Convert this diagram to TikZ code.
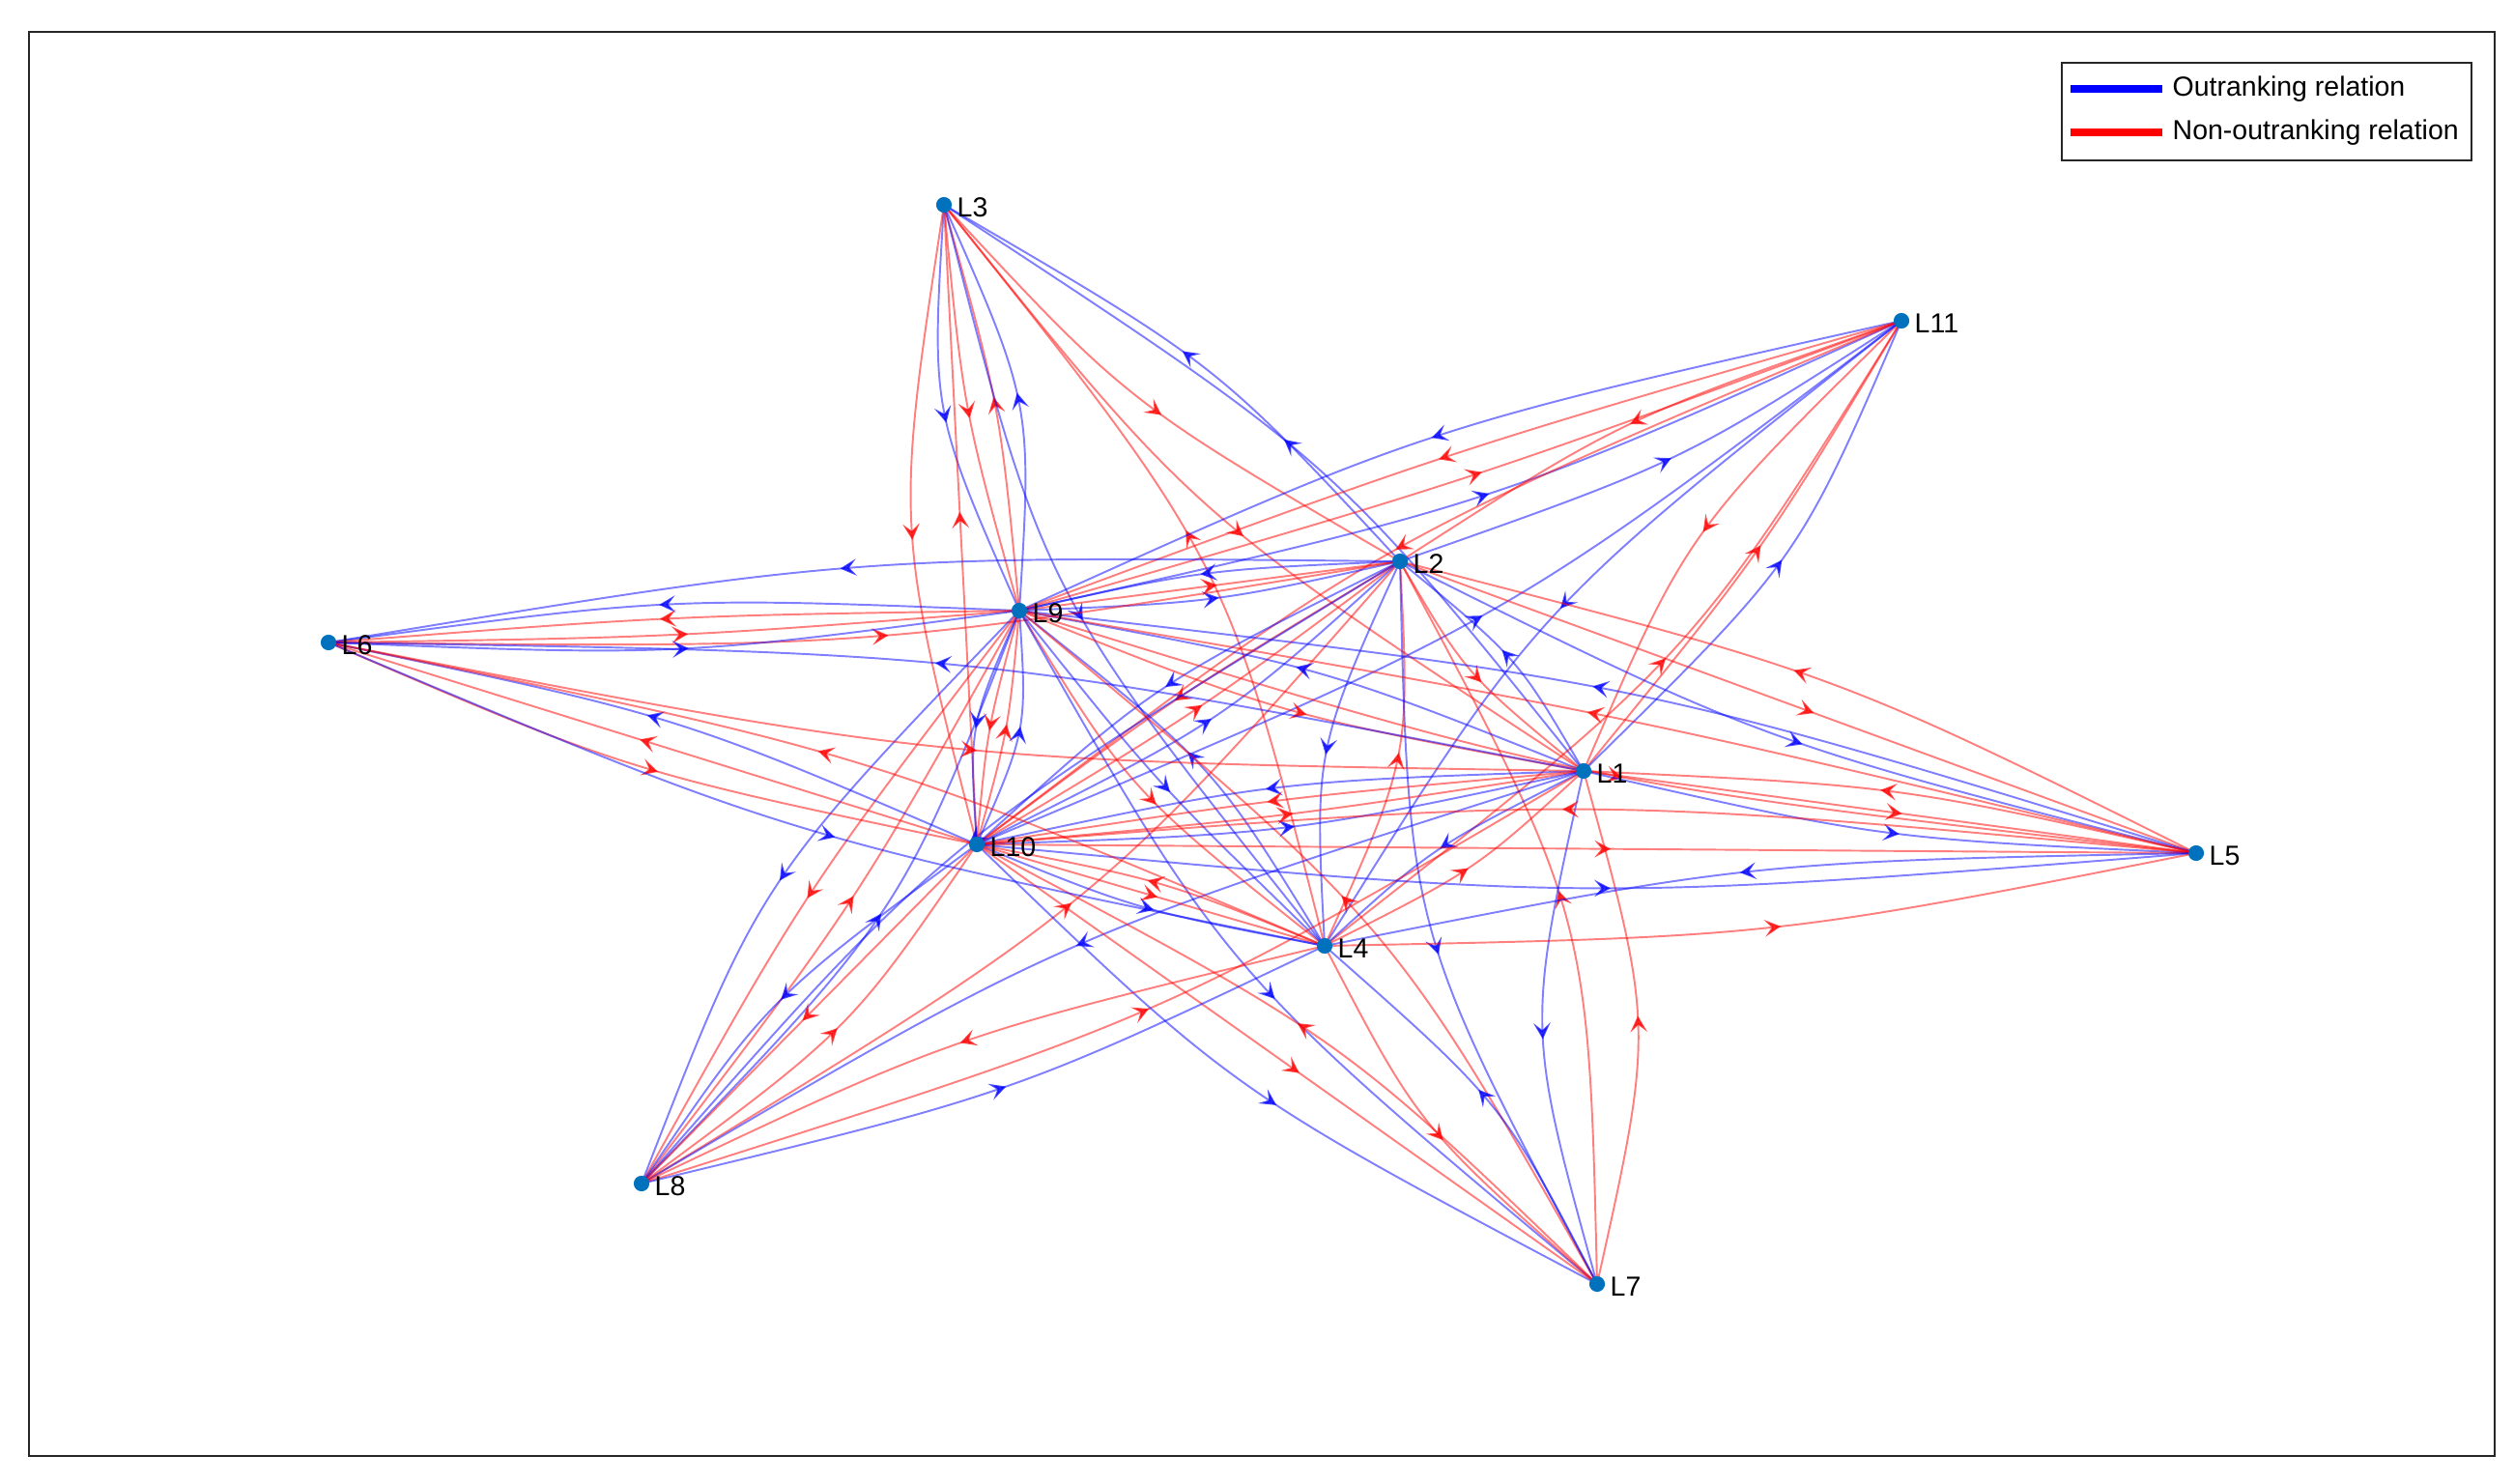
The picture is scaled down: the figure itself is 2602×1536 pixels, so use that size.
\documentclass[tikz,border=0pt]{standalone}
\usepackage{fontspec}
\setmainfont{Liberation Sans}
\usetikzlibrary{calc,arrows.meta,decorations.markings}
\definecolor{nodeblue}{HTML}{0072BD}
\definecolor{framegray}{HTML}{262626}
\tikzset{
  ebase/.style={line width=0.55pt, opacity=0.5, postaction={decorate},
    decoration={markings, mark=at position 0.52 with {\pgfsetfillopacity{0.7}\pgfsetstrokeopacity{0.7}\arrow{Stealth[length=4.8pt,width=5pt,inset=2.1pt]}}}},
  eB/.style={ebase, draw=blue},
  eR/.style={ebase, draw=red},
  dot/.style={circle, fill=nodeblue, inner sep=0pt, minimum size=4.6pt},
  lbl/.style={anchor=west, font=\fontsize{8.1}{9.5}\selectfont, inner sep=0pt},
}
% from, to, colour (B/R), curvature
\newcommand\myedge[4]{\draw[e#3] let \p1=(#1), \p2=(#2) in (\p1) .. controls ($(\p1)!0.5!(\p2)+({#4*1.7*((\y2)-(\y1))/0.75},{-#4*((\x2)-(\x1))/1.275})$) .. (\p2);}
\begin{document}
\begin{tikzpicture}[x=0.01cm,y=-0.01cm]
\useasboundingbox (0,0) rectangle (2602,1536);
\draw[framegray, line width=0.5pt] (30,33) rectangle (2582,1507);
% positions
\coordinate (n3) at (977,212);
\coordinate (n11) at (1968,332);
\coordinate (n2) at (1449,581);
\coordinate (n9) at (1055,632);
\coordinate (n6) at (340,665);
\coordinate (n1) at (1639,798);
\coordinate (n10) at (1011,874);
\coordinate (n5) at (2273,883);
\coordinate (n4) at (1371,979);
\coordinate (n8) at (664,1225);
\coordinate (n7) at (1653,1329);
% edges
\myedge{n2}{n3}{B}{0.055}
\myedge{n3}{n2}{R}{0.055}
\myedge{n1}{n3}{B}{0.055}
\myedge{n3}{n1}{R}{0.055}
\myedge{n3}{n9}{B}{0.055}
\myedge{n3}{n9}{R}{0.02}
\myedge{n9}{n3}{R}{0.02}
\myedge{n9}{n3}{B}{0.055}
\myedge{n3}{n10}{R}{0.045}
\myedge{n10}{n3}{R}{0}
\myedge{n4}{n3}{R}{0.055}
\myedge{n3}{n4}{B}{0.055}
\myedge{n11}{n9}{B}{0.055}
\myedge{n11}{n9}{R}{0.02}
\myedge{n9}{n11}{R}{0.02}
\myedge{n9}{n11}{B}{0.055}
\myedge{n11}{n2}{R}{0.055}
\myedge{n2}{n11}{B}{0.055}
\myedge{n11}{n1}{R}{0.055}
\myedge{n1}{n11}{R}{0.02}
\myedge{n1}{n11}{B}{0.055}
\myedge{n11}{n10}{R}{0.055}
\myedge{n10}{n11}{B}{0.055}
\myedge{n4}{n11}{R}{0.055}
\myedge{n11}{n4}{B}{0.055}
\myedge{n2}{n9}{B}{0.055}
\myedge{n9}{n2}{R}{0}
\myedge{n9}{n2}{B}{0.055}
\myedge{n2}{n6}{B}{0.055}
\myedge{n6}{n2}{R}{0.055}
\myedge{n1}{n2}{B}{0.055}
\myedge{n2}{n1}{R}{0.055}
\myedge{n2}{n10}{B}{0.055}
\myedge{n2}{n10}{R}{0.02}
\myedge{n10}{n2}{R}{0.02}
\myedge{n10}{n2}{B}{0.055}
\myedge{n2}{n4}{B}{0.055}
\myedge{n4}{n2}{R}{0.055}
\myedge{n5}{n2}{R}{0.055}
\myedge{n2}{n5}{R}{0}
\myedge{n2}{n5}{B}{0.055}
\myedge{n7}{n2}{R}{0.055}
\myedge{n2}{n7}{B}{0.055}
\myedge{n8}{n2}{R}{0.055}
\myedge{n2}{n8}{B}{0.055}
\myedge{n1}{n9}{B}{0.055}
\myedge{n9}{n1}{R}{0.055}
\myedge{n9}{n10}{B}{0.055}
\myedge{n9}{n10}{R}{0.02}
\myedge{n10}{n9}{R}{0.02}
\myedge{n10}{n9}{B}{0.055}
\myedge{n4}{n9}{B}{0.055}
\myedge{n9}{n4}{R}{0.055}
\myedge{n9}{n4}{B}{0.02}
\myedge{n5}{n9}{B}{0.055}
\myedge{n5}{n9}{R}{0.02}
\myedge{n9}{n5}{R}{0.055}
\myedge{n9}{n6}{B}{0.055}
\myedge{n9}{n6}{R}{0.02}
\myedge{n6}{n9}{R}{0.02}
\myedge{n6}{n9}{B}{0.055}
\myedge{n9}{n7}{B}{0.055}
\myedge{n7}{n9}{R}{0.055}
\myedge{n9}{n8}{B}{0.055}
\myedge{n9}{n8}{R}{0.02}
\myedge{n8}{n9}{R}{0.02}
\myedge{n8}{n9}{B}{0.055}
\myedge{n1}{n10}{B}{0.055}
\myedge{n1}{n10}{R}{0.02}
\myedge{n10}{n1}{R}{0.02}
\myedge{n10}{n1}{B}{0.055}
\myedge{n1}{n4}{B}{0.055}
\myedge{n4}{n1}{R}{0.055}
\myedge{n5}{n1}{R}{0.055}
\myedge{n1}{n5}{R}{0}
\myedge{n1}{n5}{B}{0.055}
\myedge{n1}{n6}{B}{0.055}
\myedge{n6}{n1}{R}{0.055}
\myedge{n1}{n7}{B}{0.055}
\myedge{n7}{n1}{R}{0.055}
\myedge{n8}{n1}{R}{0.055}
\myedge{n1}{n8}{B}{0.055}
\myedge{n10}{n4}{B}{0.055}
\myedge{n10}{n4}{R}{0}
\myedge{n4}{n10}{R}{0.055}
\myedge{n5}{n10}{R}{0.055}
\myedge{n10}{n5}{R}{0}
\myedge{n10}{n5}{B}{0.055}
\myedge{n10}{n7}{B}{0.055}
\myedge{n10}{n7}{R}{0}
\myedge{n7}{n10}{R}{0.055}
\myedge{n10}{n8}{B}{0.055}
\myedge{n10}{n8}{R}{0}
\myedge{n8}{n10}{R}{0.055}
\myedge{n10}{n6}{B}{0.055}
\myedge{n10}{n6}{R}{0}
\myedge{n6}{n10}{R}{0.055}
\myedge{n5}{n4}{B}{0.055}
\myedge{n4}{n5}{R}{0.055}
\myedge{n4}{n6}{R}{0.055}
\myedge{n6}{n4}{B}{0.055}
\myedge{n4}{n7}{R}{0.055}
\myedge{n7}{n4}{B}{0.055}
\myedge{n4}{n8}{R}{0.055}
\myedge{n8}{n4}{B}{0.055}
% node dots and labels
\foreach \n in {1,...,11} {
  \node[dot] (d\n) at (n\n) {};
  \node[lbl] (t\n) at ($(n\n)+(13,3)$) {L\n};
}
% legend
\node[draw=framegray, line width=0.5pt, fill=white, anchor=north west, minimum width=4.24cm, minimum height=1.01cm, inner sep=0pt] (legend) at (2133,64) {};
\coordinate (lb1) at (2143,92);
\coordinate (lb2) at (2238,92);
\coordinate (lr1) at (2143,137);
\coordinate (lr2) at (2238,137);
\draw[blue, line width=2pt] (lb1) -- (lb2);
\draw[red, line width=2pt] (lr1) -- (lr2);
\node[lbl] (lg1) at (2248,92) {Outranking relation};
\node[lbl] (lg2) at (2248,137) {Non-outranking relation};
\end{tikzpicture}
\end{document}
